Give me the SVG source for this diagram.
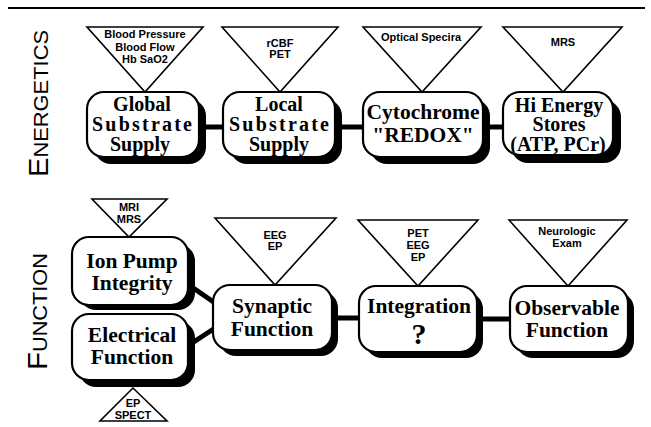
<svg xmlns="http://www.w3.org/2000/svg" width="651" height="427" viewBox="0 0 651 427">
<style>
.tri{fill:#fff;stroke:#000;stroke-width:1.6;stroke-linejoin:miter}
.tt{font-family:"Liberation Sans",Arial,sans-serif;font-weight:bold;font-size:11px;fill:#000;text-anchor:middle}
.box{fill:#fff;stroke:#000;stroke-width:2.2}
.sh{fill:#000}
.bt{font-family:"Liberation Serif","Times New Roman",serif;font-weight:bold;font-size:21.5px;fill:#000;text-anchor:middle}
.b3{font-size:20px}
.q{font-size:30px}
.con{stroke:#000;stroke-width:5;fill:none}
.lab{font-family:"Liberation Sans",Arial,sans-serif;fill:#000}
</style>
<rect x="0" y="0" width="651" height="427" fill="#fff"/>
<line x1="8" y1="8" x2="645" y2="8" stroke="#000" stroke-width="2"/>
<text class="lab" transform="translate(48,177) rotate(-90)" textLength="147" lengthAdjust="spacingAndGlyphs"><tspan font-size="28">E</tspan><tspan font-size="21">NERGETICS</tspan></text>
<text class="lab" transform="translate(47,370) rotate(-90)" textLength="117" lengthAdjust="spacingAndGlyphs"><tspan font-size="27">F</tspan><tspan font-size="20">UNCTION</tspan></text>
<g id="connectors">
<line class="con" x1="199" y1="127" x2="224" y2="127"/>
<line class="con" x1="335" y1="127" x2="364" y2="127"/>
<line class="con" x1="483" y1="127" x2="504" y2="127"/>
<line class="con" x1="186" y1="283" x2="215" y2="303"/>
<line class="con" x1="186" y1="347" x2="215" y2="328"/>
<line class="con" x1="332" y1="318" x2="360" y2="318"/>
<line class="con" x1="477" y1="319" x2="511" y2="319"/>
</g>
<g id="t-global">
<polygon class="tri" points="87,27 203,27 145,92"/>
<text class="tt" x="145" y="38">Blood Pressure</text>
<text class="tt" x="145" y="51">Blood Flow</text>
<text class="tt" x="145" y="63">Hb SaO2</text>
</g>
<g id="t-local">
<polygon class="tri" points="222,27 338,27 280,92"/>
<text class="tt" x="280" y="47">rCBF</text>
<text class="tt" x="280" y="58">PET</text>
</g>
<g id="t-cyto">
<polygon class="tri" points="363,27 481,27 422,92"/>
<text class="tt" x="421" y="41">Optical Specira</text>
</g>
<g id="t-energy">
<polygon class="tri" points="503,27 622,27 563,92"/>
<text class="tt" x="563" y="46">MRS</text>
</g>
<g id="t-ion">
<polygon class="tri" points="92,199 167,199 129,237"/>
<text class="tt" x="129" y="211">MRI</text>
<text class="tt" x="129" y="223">MRS</text>
</g>
<g id="t-syn">
<polygon class="tri" points="215,218 336,218 275,285"/>
<text class="tt" x="275" y="239">EEG</text>
<text class="tt" x="275" y="250">EP</text>
</g>
<g id="t-int">
<polygon class="tri" points="358,220 478,220 418,286"/>
<text class="tt" x="418" y="237">PET</text>
<text class="tt" x="418" y="249">EEG</text>
<text class="tt" x="418" y="261">EP</text>
</g>
<g id="t-obs">
<polygon class="tri" points="509,220 627,220 568,286"/>
<text class="tt" x="567" y="235">Neurologic</text>
<text class="tt" x="567" y="247">Exam</text>
</g>
<g id="t-elec">
<polygon class="tri" points="133,388 100,421 167,421"/>
<text class="tt" x="133" y="407">EP</text>
<text class="tt" x="133" y="419">SPECT</text>
</g>
<g id="n-global">
<rect class="sh" x="94" y="99" width="112" height="65" rx="17"/>
<rect class="box" x="87" y="92" width="112" height="65" rx="17"/>
<text class="bt b3" x="142" y="111">Global</text>
<text class="bt b3" x="142" y="131" textLength="100">Substrate</text>
<text class="bt b3" x="140" y="151">Supply</text>
</g>
<g id="n-local">
<rect class="sh" x="230" y="99" width="112" height="65" rx="17"/>
<rect class="box" x="223" y="92" width="112" height="65" rx="17"/>
<text class="bt b3" x="279" y="111">Local</text>
<text class="bt b3" x="279" y="131" textLength="100">Substrate</text>
<text class="bt b3" x="279" y="151">Supply</text>
</g>
<g id="n-cyto">
<rect class="sh" x="370" y="99" width="120" height="65" rx="17"/>
<rect class="box" x="363" y="92" width="120" height="65" rx="17"/>
<text class="bt" x="423" y="119">Cytochrome</text>
<text class="bt" x="423" y="142">"REDOX"</text>
</g>
<g id="n-energy">
<rect class="sh" x="511" y="100" width="110" height="63" rx="17"/>
<rect class="box" x="503" y="92" width="110" height="63" rx="17"/>
<text class="bt b3" x="559" y="112">Hi Energy</text>
<text class="bt b3" x="559" y="131">Stores</text>
<text class="bt b3" x="558" y="151">(ATP, PCr)</text>
</g>
<g id="n-ion">
<rect class="sh" x="79" y="244" width="116" height="66" rx="17"/>
<rect class="box" x="72" y="237" width="116" height="68" rx="17"/>
<text class="bt" x="132" y="268">Ion Pump</text>
<text class="bt" x="132" y="290">Integrity</text>
</g>
<g id="n-elec">
<rect class="sh" x="79" y="321" width="116" height="66" rx="17"/>
<rect class="box" x="72" y="314" width="116" height="66" rx="17"/>
<text class="bt" x="132" y="342">Electrical</text>
<text class="bt" x="132" y="364">Function</text>
</g>
<g id="n-syn">
<rect class="sh" x="219" y="291" width="119" height="65" rx="17"/>
<rect class="box" x="213" y="285" width="119" height="65" rx="17"/>
<text class="bt" x="272" y="313">Synaptic</text>
<text class="bt" x="272" y="336">Function</text>
</g>
<g id="n-int">
<rect class="sh" x="365" y="292" width="118" height="66" rx="17"/>
<rect class="box" x="359" y="286" width="118" height="66" rx="17"/>
<text class="bt" x="419" y="313">Integration</text>
<text class="bt q" x="419" y="344">?</text>
</g>
<g id="n-obs">
<rect class="sh" x="516" y="292" width="118" height="66" rx="17"/>
<rect class="box" x="510" y="286" width="118" height="66" rx="17"/>
<text class="bt" x="567" y="315">Observable</text>
<text class="bt" x="567" y="337">Function</text>
</g>
</svg>
